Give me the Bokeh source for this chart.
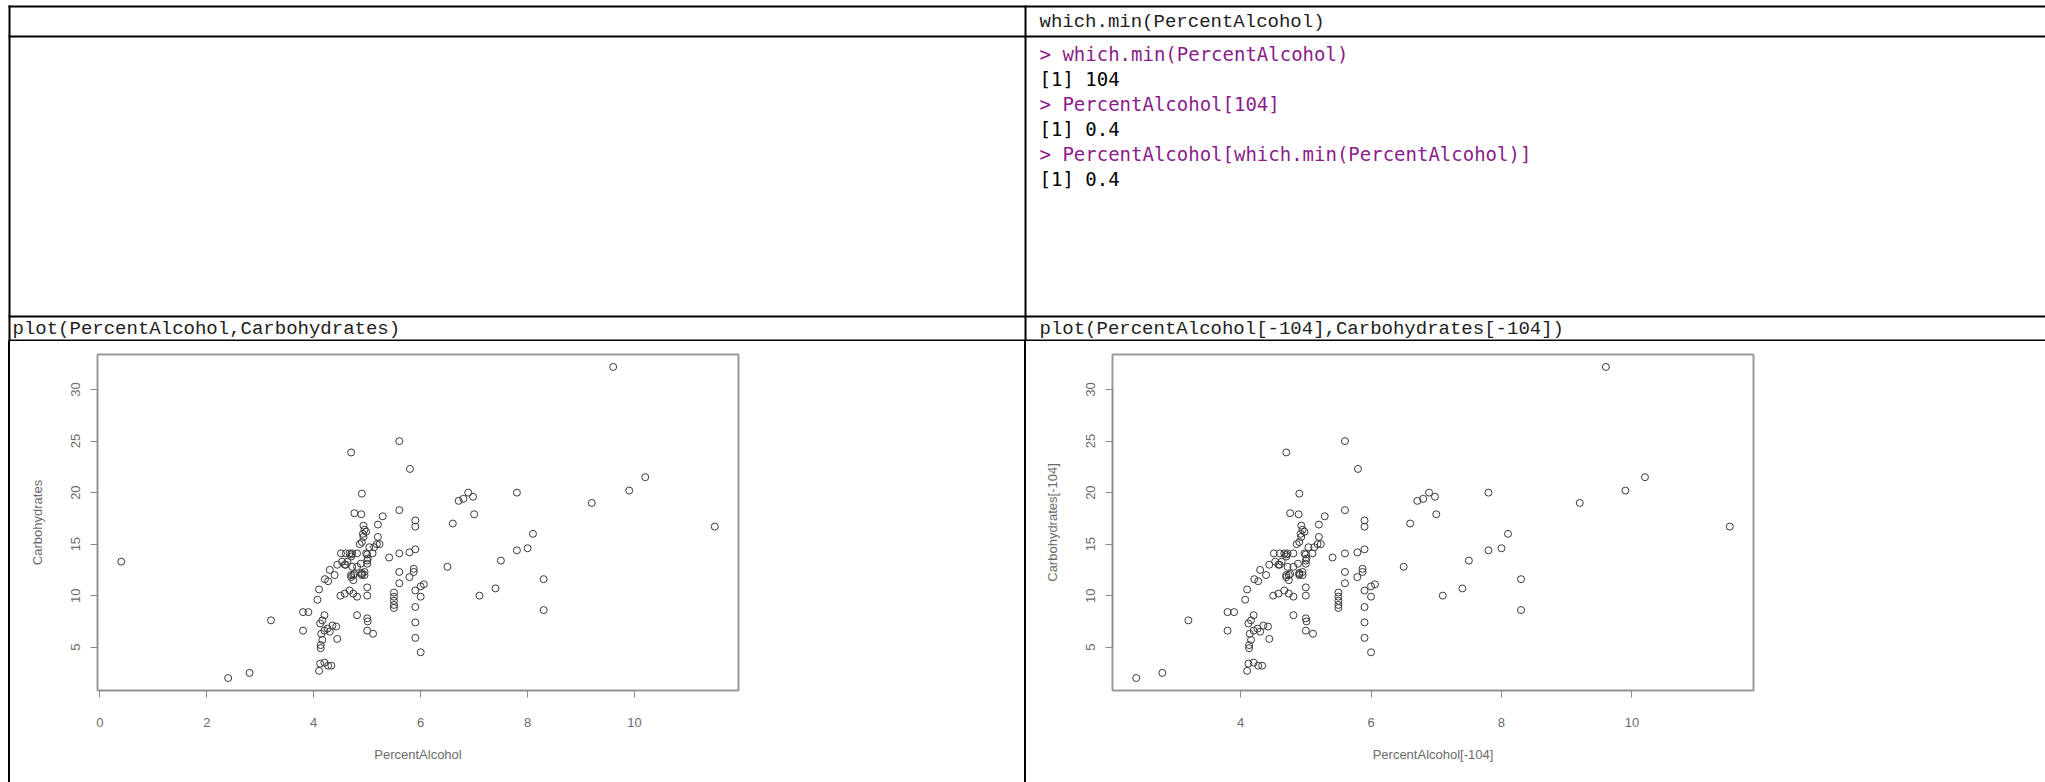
from bokeh.plotting import figure
from bokeh.models import Range1d, FixedTicker, Div
from bokeh.layouts import column, row
from bokeh.embed import file_html
from bokeh.resources import INLINE
from bokeh.core.properties import value

# ---------------- data ----------------
percent_alcohol = [
    2.4, 2.8, 3.2, 3.8, 3.9, 3.8, 4.07, 4.1, 4.1, 4.12,
    4.2, 4.27, 4.33, 4.12, 4.16, 4.2, 4.14, 4.16, 4.13, 4.13,
    4.2, 4.26, 4.3, 4.35, 4.42, 4.44, 4.21, 4.27, 4.3, 4.39,
    4.44, 4.51, 4.53, 4.58, 4.6, 4.63, 4.67, 4.7, 4.72, 4.74,
    4.74, 4.72, 4.81, 4.86, 4.88, 4.81, 4.76, 4.9, 4.95, 4.95,
    5.0, 5.01, 4.98, 5.04, 5.1, 5.13, 5.18, 5.23, 5.2, 4.98,
    4.93, 4.93, 4.92, 4.7, 4.9, 4.76, 4.89, 5.2, 5.29, 4.5,
    4.58, 4.67, 4.74, 4.81, 4.81, 5.0, 5.0, 5.0, 5.01, 5.0,
    5.11, 5.5, 5.5, 5.5, 5.5, 5.5, 5.41, 5.6, 5.6, 5.6,
    5.6, 5.6, 5.8, 5.79, 5.79, 5.87, 5.9, 5.9, 5.9, 5.87,
    5.9, 5.9, 5.9, 0.4, 5.9, 6.0, 6.0, 6.0, 6.06, 6.5,
    6.6, 6.71, 6.8, 6.89, 6.98, 7.0, 7.1, 7.4, 7.5, 7.8,
    7.8, 8.0, 8.1, 8.3, 8.3, 9.2, 9.6, 9.9, 10.2, 11.5,
    4.7, 4.7, 4.9, 4.9, 4.7, 5.0, 4.6, 5.0, 4.9, 4.95,
]
carbohydrates = [
    2.0, 2.5, 7.6, 8.4, 8.4, 6.6, 9.6, 10.6, 2.7, 3.4,
    3.5, 3.2, 3.2, 7.3, 7.6, 8.1, 6.3, 5.7, 5.2, 4.9,
    6.6, 6.8, 6.5, 7.1, 7.0, 5.8, 11.6, 11.4, 12.5, 12.0,
    13.0, 14.1, 13.3, 13.0, 14.1, 13.3, 14.1, 13.8, 12.8, 12.0,
    11.5, 14.1, 14.1, 15.0, 13.1, 12.8, 12.1, 12.1, 12.0, 12.3,
    13.1, 13.6, 14.1, 14.7, 14.1, 14.7, 15.0, 15.0, 15.7, 16.2,
    15.7, 16.8, 16.0, 23.9, 19.9, 18.0, 17.9, 16.9, 17.7, 10.0,
    10.2, 10.5, 10.2, 9.9, 8.1, 10.8, 10.0, 7.8, 7.5, 6.6,
    6.3, 10.3, 9.9, 9.5, 9.1, 8.8, 13.7, 14.1, 12.3, 11.2,
    18.3, 25.0, 22.3, 14.2, 11.8, 12.3, 14.5, 17.3, 16.7, 12.6,
    10.5, 8.9, 7.4, 13.3, 5.9, 4.5, 9.9, 10.9, 11.1, 12.8,
    17.0, 19.2, 19.4, 20.0, 19.6, 17.9, 10.0, 10.7, 13.4, 20.0,
    14.4, 14.6, 16.0, 11.6, 8.6, 19.0, 32.2, 20.2, 21.5, 16.7,
    12.0, 11.8, 12.0, 12.2, 14.0, 13.4, 13.0, 14.0, 15.2, 16.4,
]
removed_index = 104  # 1-based, as in R

header_code = "which.min(PercentAlcohol)"
console_lines = [
    "> which.min(PercentAlcohol)",
    "[1] 104",
    "> PercentAlcohol[104]",
    "[1] 0.4",
    "> PercentAlcohol[which.min(PercentAlcohol)]",
    "[1] 0.4",
]
console_is_command = [True, False, True, False, True, False]
left_caption = "plot(PercentAlcohol,Carbohydrates)"
right_caption = "plot(PercentAlcohol[-104],Carbohydrates[-104])"
left_x_ticks = [0, 2, 4, 6, 8, 10]
right_x_ticks = [4, 6, 8, 10]
y_ticks = [5, 10, 15, 20, 25, 30]
left_x_label = "PercentAlcohol"
left_y_label = "Carbohydrates"
right_x_label = "PercentAlcohol[-104]"
right_y_label = "Carbohydrates[-104]"

# ---------------- layout constants (page pixels) ----------------
W = 2045
H = 782
TOP_H = 341
BOT_H = H - TOP_H
LEFT_X = 9
DIV_X = 1025
TEXT_X = DIV_X + 14
CMD_COLOR = "#8b1c8b"

# ---------------- top part of the table ----------------
top = figure(width=W, height=TOP_H, x_range=Range1d(0, W), y_range=Range1d(TOP_H, 0),
             output_backend="svg", toolbar_location=None, min_border=0,
             x_axis_location=None, y_axis_location=None)
top.grid.visible = False
top.outline_line_color = None
top.background_fill_color = "white"
top.border_fill_color = "white"

hy = [6, 36, 316, 340]
top.segment(x0=[LEFT_X - 1] * len(hy), y0=hy, x1=[W] * len(hy), y1=hy,
            line_color="black", line_width=2)
top.segment(x0=[LEFT_X, DIV_X], y0=[5, 5], x1=[LEFT_X, DIV_X], y1=[TOP_H, TOP_H],
            line_color="black", line_width=2)

top.text(x=[TEXT_X], y=[21], text=[header_code], text_font=value("Liberation Mono"),
         text_font_size="19px", text_baseline="middle", text_color="#222222")

y0, lh = 53, 25
top.text(x=[TEXT_X] * len(console_lines), y=[y0 + i * lh for i in range(len(console_lines))],
         text=console_lines,
         text_color=[CMD_COLOR if c else "black" for c in console_is_command],
         text_font=value("DejaVu Sans Mono"), text_font_size="19px", text_baseline="middle")

top.text(x=[LEFT_X + 3, TEXT_X], y=[328, 328], text=[left_caption, right_caption],
         text_font=value("Liberation Mono"), text_font_size="19px", text_baseline="middle",
         text_color="#222222")


# ---------------- scatter plots ----------------
def padded(vals):
    lo, hi = min(vals), max(vals)
    s = hi - lo
    return Range1d(lo - 0.04 * s, hi + 0.04 * s)


def scatter_fig(xs, ys, xticks, xlabel, ylabel, width, left, right):
    p = figure(width=width, height=BOT_H, x_range=padded(xs), y_range=padded(ys),
               output_backend="svg", toolbar_location=None,
               min_border_left=left, min_border_right=right,
               min_border_top=13, min_border_bottom=BOT_H - 13 - 336)
    p.grid.visible = False
    p.background_fill_color = "white"
    p.border_fill_color = "white"
    p.outline_line_color = "#9a9a9a"
    p.outline_line_width = 2
    p.scatter(xs, ys, marker="circle", size=7, fill_color=None,
              line_color="#3a3a3a", line_width=1)
    p.xaxis.ticker = FixedTicker(ticks=xticks)
    p.xaxis.bounds = (xticks[0], xticks[-1])
    p.yaxis.ticker = FixedTicker(ticks=y_ticks)
    p.yaxis.bounds = (y_ticks[0], y_ticks[-1])
    p.yaxis.major_label_orientation = "vertical"
    for ax in (p.xaxis, p.yaxis):
        ax.axis_line_color = "#8a8a8a"
        ax.major_tick_line_color = "#8a8a8a"
        ax.minor_tick_line_color = None
        ax.major_tick_out = 7
        ax.major_tick_in = 0
        ax.major_label_text_font = "Liberation Sans"
        ax.major_label_text_font_size = "13px"
        ax.major_label_text_color = "#6b6b6b"
        ax.axis_label_text_font = "Liberation Sans"
        ax.axis_label_text_font_size = "13px"
        ax.axis_label_text_font_style = "normal"
        ax.axis_label_text_color = "#6b6b6b"
    p.xaxis.major_label_standoff = 20
    p.yaxis.major_label_standoff = 10
    p.xaxis.axis_label = xlabel
    p.yaxis.axis_label = ylabel
    p.xaxis.axis_label_standoff = 17
    p.yaxis.axis_label_standoff = 24
    return p


keep = [i for i in range(len(percent_alcohol)) if i != removed_index - 1]
left_fig = scatter_fig(percent_alcohol, carbohydrates, left_x_ticks, left_x_label, left_y_label,
                       1014, 87, 286)
right_fig = scatter_fig([percent_alcohol[i] for i in keep], [carbohydrates[i] for i in keep],
                        right_x_ticks, right_x_label, right_y_label, 1019, 86, 292)

pad = Div(text="", width=8, height=BOT_H, margin=(0, 0, 0, 0),
          styles={"background-color": "white"})
bar1 = Div(text="", width=2, height=BOT_H, margin=(0, 0, 0, 0),
           styles={"background-color": "black"})
bar2 = Div(text="", width=2, height=BOT_H, margin=(0, 0, 0, 0),
           styles={"background-color": "black"})

layout = column(top, row(pad, bar1, left_fig, bar2, right_fig, spacing=0), spacing=0)

open("out.html", "w").write(file_html(layout, INLINE))
